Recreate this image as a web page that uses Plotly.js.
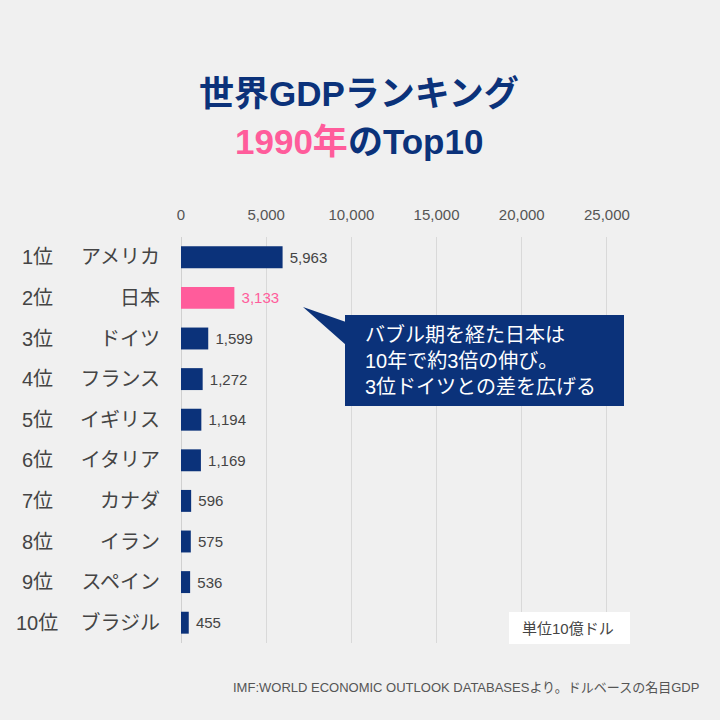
<!DOCTYPE html>
<html><head><meta charset="utf-8">
<script src="https://cdn.plot.ly/plotly-3.0.1.min.js"></script>
<style>html,body{margin:0;padding:0;background:#f0f0f0;}#chart{width:720px;height:720px;}</style>
</head><body><div id="chart"></div>
<script>
const ranks = ["1位","2位","3位","4位","5位","6位","7位","8位","9位","10位"];
const countries = ["アメリカ","日本","ドイツ","フランス","イギリス","イタリア","カナダ","イラン","スペイン","ブラジル"];
const gdp = [5963,3133,1599,1272,1194,1169,596,575,536,455];
const xTicks = [0,5000,10000,15000,20000,25000];

const NAVY = "#0b327a", PINK = "#ff5c9b", GREY = "#444";
const FONT = "'Liberation Sans', 'Noto Sans CJK JP', sans-serif";
const L = 181, R = 641, T = 237, B = 643;
const px = x => (x - L) / (R - L);
const py = y => (B - y) / (B - T);

const colors = countries.map(c => c === "日本" ? PINK : NAVY);
const textColors = countries.map(c => c === "日本" ? PINK : GREY);

const trace = {
  type: "bar", orientation: "h",
  y: countries, x: gdp,
  marker: {color: colors, line: {width: 0}},
  width: 0.54,
  texttemplate: " %{x:,}", textposition: "outside",
  textfont: {color: textColors, size: 15, family: FONT},
  cliponaxis: false, hoverinfo: "none"
};

const annotations = ranks.map((r, i) => ({
  xref: "paper", yref: "y", x: px(37), y: countries[i], text: r,
  showarrow: false, xanchor: "center", yanchor: "middle",
  font: {size: 20, color: "#444", family: FONT}
}));
annotations.push(
  {xref:"paper", yref:"paper", x:px(359), y:py(93), text:"<b>世界GDPランキング</b>", showarrow:false,
   xanchor:"center", yanchor:"middle", font:{size:35, color:NAVY, family:FONT}},
  {xref:"paper", yref:"paper", x:px(359), y:py(141), text:"<b><span style='color:"+PINK+"'>1990年</span>のTop10</b>", showarrow:false,
   xanchor:"center", yanchor:"middle", font:{size:35, color:NAVY, family:FONT}},
  {xref:"paper", yref:"paper", x:px(363), y:py(360), text:"バブル期を経た日本は<br>10年で約3倍の伸び。<br>3位ドイツとの差を広げる",
   showarrow:false, xanchor:"left", yanchor:"middle", align:"left",
   font:{size:20, color:"#ffffff", family:FONT}},
  {xref:"paper", yref:"paper", x:px(568), y:py(628), text:"単位10億ドル", showarrow:false,
   xanchor:"center", yanchor:"middle", font:{size:15, color:"#444", family:FONT}},
  {xref:"paper", yref:"paper", x:px(701), y:py(687), text:"IMF:WORLD ECONOMIC OUTLOOK DATABASESより。ドルベースの名目GDP", showarrow:false,
   xanchor:"right", yanchor:"middle", font:{size:13, color:"#555", family:FONT}}
);

const shapes = [
  {type:"rect", xref:"paper", yref:"paper", x0:px(345), x1:px(624), y0:py(315), y1:py(406),
   fillcolor:NAVY, line:{width:0}, layer:"above"},
  {type:"path", xref:"paper", yref:"paper",
   path:`M ${px(303)} ${py(307)} L ${px(346)} ${py(322)} L ${px(346)} ${py(345)} Z`,
   fillcolor:NAVY, line:{width:0}, layer:"above"},
  {type:"rect", xref:"paper", yref:"paper", x0:px(509), x1:px(630), y0:py(612), y1:py(644),
   fillcolor:"#ffffff", line:{width:0}, layer:"above"}
];

const layout = {
  width: 720, height: 720,
  paper_bgcolor: "#f0f0f0", plot_bgcolor: "#f0f0f0",
  margin: {l: L, r: 720 - R, t: T, b: 720 - B, pad: 0},
  showlegend: false,
  font: {family: FONT, color: "#444"},
  xaxis: {side: "top", range: [0, 27000], tickvals: xTicks, tickformat: ",",
          showgrid: true, gridcolor: "#d9d9d9", gridwidth: 1, zeroline: true, zerolinecolor: "#d0d0d0",
          tickfont: {size: 15, color: "#555", family: FONT}, ticks: "", ticklabelstandoff: 13, fixedrange: true},
  yaxis: {autorange: "reversed", tickfont: {size: 20, color: "#444", family: FONT},
          ticks: "", ticklabelstandoff: 20, showgrid: false, zeroline: false, fixedrange: true},
  bargap: 0.46,
  annotations, shapes
};

Plotly.newPlot("chart", [trace], layout, {displayModeBar: false, staticPlot: true});
</script></body></html>
